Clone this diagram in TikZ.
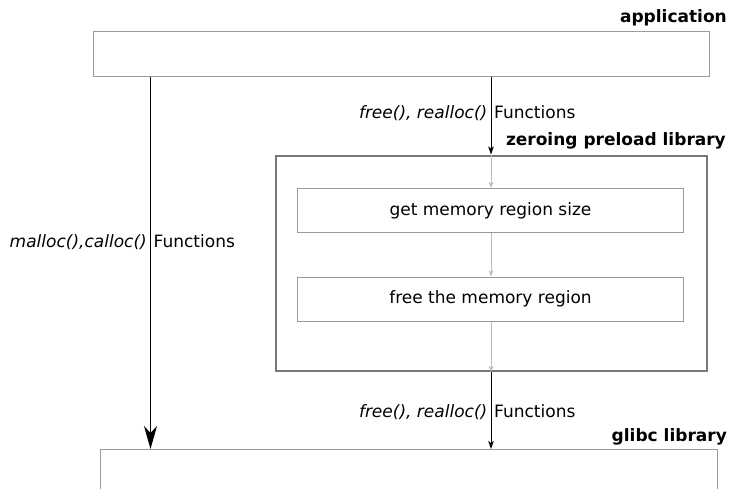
\documentclass[tikz,border=0pt]{standalone}
\usepackage{fontspec}
\setmainfont{DejaVu Sans}
\usetikzlibrary{arrows.meta}
\definecolor{boxgray}{HTML}{9A9A9A}
\definecolor{framegray}{HTML}{777777}
\definecolor{flowgray}{HTML}{BBBBBB}
\begin{document}
\begin{tikzpicture}[x=1pt,y=-1pt,
  font=\fontsize{17}{20}\selectfont,
  plainbox/.style={draw=boxgray, line width=1.3pt, fill=white, inner sep=0pt, anchor=north west},
  framebox/.style={draw=framegray, line width=2pt, fill=white, inner sep=0pt, anchor=north west},
  stepbox/.style={draw=boxgray, line width=1pt, fill=white, inner sep=0pt, anchor=north west},
  title/.style={font=\fontsize{17}{20}\selectfont\bfseries, inner sep=0pt, anchor=base east},
  calls/.style={inner sep=0pt, anchor=base east, font=\fontsize{17}{20}\selectfont\itshape},
  callsword/.style={inner sep=0pt, anchor=base west},
  thinarrow/.style={draw=black, line width=1pt, -{Stealth[length=8pt,width=5.5pt,inset=2pt]}},
  bigarrow/.style={draw=black, line width=1.3pt, -{Stealth[length=23pt,width=13pt,inset=7pt]}},
  flowarrow/.style={draw=flowgray, line width=0.9pt, -{Stealth[length=6pt,width=4.5pt,inset=1.5pt]}}]
\useasboundingbox (0,0) rectangle (730,488);
\clip (0,0) rectangle (730,488);

% boxes
\node[plainbox, minimum width=616pt, minimum height=45pt] (app) at (93,31) {};
\node[framebox, minimum width=430.5pt, minimum height=215.5pt] (zero) at (275,154.5) {};
\node[stepbox, minimum width=386pt, minimum height=44pt] (size) at (297,188) {};
\node[stepbox, minimum width=386pt, minimum height=44.5pt] (free) at (297,276.5) {};
\node[plainbox, minimum width=617pt, minimum height=80pt] (glibc) at (100,449) {};

\node at (size.center) {get memory region size};
\node at (free.center) {free the memory region};

% box titles
\node[title] (apptitle) at (727,22) {application};
\node[title] (zerotitle) at (726,145) {zeroing preload library};
\node[title] (glibctitle) at (727,441) {glibc library};

% connector columns
\coordinate (lx) at (150.5,0);
\coordinate (mx) at (491,0);

\draw[bigarrow] (app.south -| lx) -- (glibc.north -| lx);
\draw[thinarrow] (app.south -| mx) -- (zero.north -| mx);
\draw[flowarrow] (zero.north -| mx) -- (size.north -| mx);
\draw[flowarrow] (size.south -| mx) -- (free.north -| mx);
\draw[flowarrow] (free.south -| mx) -- (zero.south -| mx);
\draw[thinarrow] (zero.south -| mx) -- (glibc.north -| mx);

% connector labels
\node[calls] (lcalls) at (147,247) {malloc(),calloc()};
\node[callsword] (lword) at (153.5,247) {Functions};
\node[calls] (tcalls) at (487.5,118) {free(), realloc()};
\node[callsword] (tword) at (494,118) {Functions};
\node[calls] (bcalls) at (487.5,417) {free(), realloc()};
\node[callsword] (bword) at (494,417) {Functions};
\end{tikzpicture}
\end{document}
